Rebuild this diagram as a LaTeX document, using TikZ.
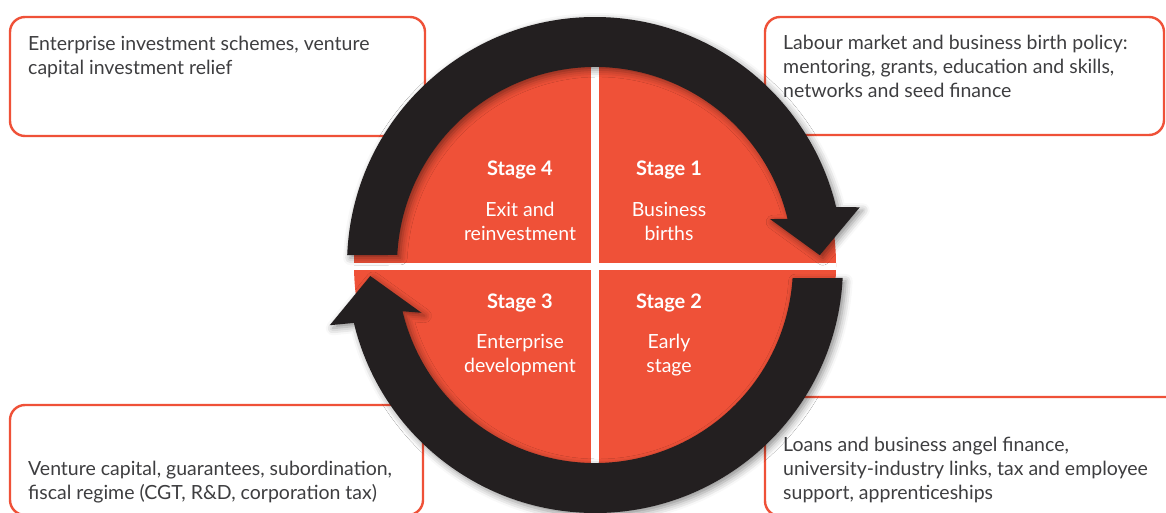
\documentclass[tikz,border=0pt]{standalone}
\usepackage{fontspec}
\setmainfont{Lato}
\usetikzlibrary{shadows.blur}
\definecolor{ored}{RGB}{239,81,56}
\definecolor{ringblack}{RGB}{35,31,32}
\definecolor{txtgray}{RGB}{62,62,64}
\begin{document}
\begin{tikzpicture}[x=1pt,y=1pt,
  infobox/.style={draw=ored, line width=2.4pt, rounded corners=15pt, fill=white},
  infotext/.style={anchor=base west, align=left, inner sep=0pt, text=txtgray, font=\fontsize{19.5}{24}\selectfont},
  stagetitle/.style={anchor=base, inner sep=0pt, text=white, font=\fontsize{20}{24}\selectfont\bfseries},
  stagetext/.style={anchor=base, align=center, inner sep=0pt, text=white, font=\fontsize{19.5}{24}\selectfont},
  ringarrow/.style={fill=ringblack, blur shadow={shadow xshift=3pt, shadow yshift=-3pt, shadow blur radius=7pt, shadow opacity=45}}]
\useasboundingbox (0,0) rectangle (1166,512);
% info boxes
\draw[infobox] (10,376) rectangle (425,495);
\draw[infobox] (765,377) rectangle (1164,495);
\draw[infobox] (10,-3) rectangle (423,107);
\draw[infobox] (765,-4) rectangle (1185,115);
\node[infotext] (tl) at (28,437) {Enterprise investment schemes, venture\\capital investment relief};
\node[infotext] (tr) at (783,414) {Labour market and business birth policy:\\mentoring, grants, education and skills,\\networks and seed finance};
\node[infotext] (bl) at (28,13) {Venture capital, guarantees, subordination,\\fiscal regime (CGT, R\&D, corporation tax)};
\node[infotext] (br) at (783,13) {Loans and business angel finance,\\university-industry links, tax and employee\\support, apprenticeships};
% red disc
\fill[ored] (595,247) circle[radius=241];
\begin{scope}
  \clip (595,247) circle[radius=241];
  \fill[white] (591,0) rectangle (599,512);
  \fill[white] (300,242) rectangle (900,249);
\end{scope}
% ring arrows
\begin{scope}[shift={(595,247)}]
  \fill[ringarrow] (177.7:248) arc[start angle=177.7, end angle=13.5, radius=248]
    -- (12.3:271) -- (2.5:225) -- (14.7:181) -- (13.5:198)
    arc[start angle=13.5, end angle=177.1, radius=198] -- cycle;
  \fill[ringarrow] (-3.0:248) arc[start angle=-3.0, end angle=-166.5, radius=248]
    -- (-167.2:272) -- (-177.2:225) -- (-164.6:180) -- (-166.5:198)
    arc[start angle=-166.5, end angle=-3.8, radius=198] -- cycle;
\end{scope}
% stage labels
\node[stagetitle] (s4) at (520,336) {Stage 4};
\node[stagetitle] (s1) at (669,336) {Stage 1};
\node[stagetitle] (s3) at (520,204) {Stage 3};
\node[stagetitle] (s2) at (669,204) {Stage 2};
\node[stagetext] (d4) at (520,272) {Exit and\\reinvestment};
\node[stagetext] (d1) at (669,272) {Business\\births};
\node[stagetext] (d3) at (520,140) {Enterprise\\development};
\node[stagetext] (d2) at (669,140) {Early\\stage};
\end{tikzpicture}
\end{document}
